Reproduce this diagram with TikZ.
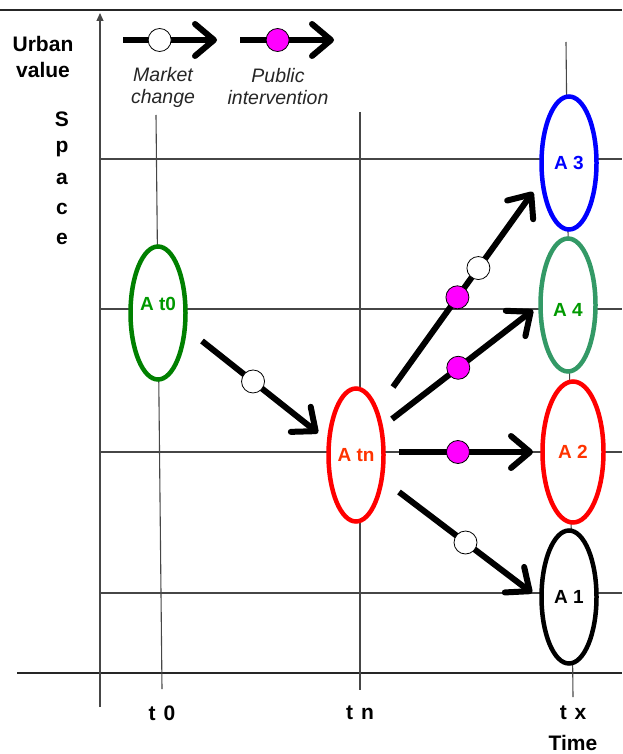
\documentclass[tikz,border=0pt]{standalone}
\usepackage{fontspec}
\setmainfont{Liberation Sans}
\usepackage{xcolor}
\usepackage{tikz}
\usetikzlibrary{calc,positioning,arrows.meta,shapes}

\definecolor{startgreen}{RGB}{0,128,0}
\definecolor{labelgreen}{RGB}{0,153,0}
\definecolor{seagreen}{RGB}{51,153,102}
\definecolor{labelred}{RGB}{255,51,0}
\definecolor{pubmagenta}{RGB}{255,0,255}
\definecolor{gridgray}{RGB}{70,70,70}

\tikzset{
  gridline/.style={line width=1.1pt, gridgray},
  axisline/.style={line width=2pt, black!85},
  flow/.style={line width=6pt, -{Straight Barb[round, length=19pt, width=32pt]}},
  mkt/.style={circle, draw, fill=white, line width=0.8pt, minimum size=23pt, inner sep=0pt},
  pub/.style={mkt, fill=pubmagenta},
  areafont/.style={font=\fontsize{19}{21}\selectfont\bfseries},
  area/.style={ellipse, draw, fill=white, line width=4.5pt, minimum width=55pt,
    minimum height=133pt, inner sep=0pt, areafont},
  axtxt/.style={font=\fontsize{21}{23}\selectfont\bfseries},
  legtxt/.style={font=\fontsize{19.5}{22}\selectfont\itshape, text=black!85, align=center}
}

\begin{document}
\begin{tikzpicture}[x=1pt, y=-1pt]
  \useasboundingbox (0,0) rectangle (622,754);

        \draw[axisline](0, 10) to (622, 10);
        \draw[axisline](17, 673) to (622, 673);
        \draw[gridline, -{Triangle[length=8pt, width=7pt]}](100, 707) to (100, 13);

          \draw[gridline](100, 159) to (622, 159);
          \draw[gridline](100, 309) to (622, 309);
          \draw[gridline](100, 452) to (622, 452);
          \draw[gridline](100, 593) to (622, 593);

          \draw[gridline](156, 115) to (162, 689);
          \draw[gridline](360, 112) to (360, 690);
          \draw[gridline](566, 42) to (573, 697);

        \node[axtxt] (urban) at (43, 44){Urban};
        \node[axtxt] (value) at (43, 70){value};
        \node[axtxt] (sS) at (62, 119){S};
        \node[axtxt] (sP) at (62, 149){p};
        \node[axtxt] (sA) at (62, 179){a};
        \node[axtxt] (sC) at (62, 209){c};
        \node[axtxt] (sE) at (62, 239){e};

        \node[axtxt] (tzero) at (162, 713){t\hspace{2pt} 0};
        \node[axtxt] (tn) at (360, 713){t\hspace{2pt} n};
        \node[axtxt] (tx) at (573, 713){t\hspace{2pt} x};
        \node[axtxt] (time) at (573, 743){Time};

        \coordinate (legA) at (123, 40);
        \coordinate (legB) at (217, 40);
        \coordinate (legC) at (240, 40);
        \coordinate (legD) at (334, 40);
          \draw[flow](legA) to node[mkt, pos=.39] (legmkt){} (legB);
          \draw[flow](legC) to node[pub, pos=.40] (legpub){} (legD);
        \node[legtxt] (market) at (163, 87){Market\\change};
        \node[legtxt] (public) at (278, 87){Public\\intervention};

        \node[area, draw=startgreen, label={[labelgreen, yshift=9pt, areafont]center:A t0}] (At0) at (158, 313){};
        \node[area, draw=red, text=labelred] (Atn) at (356, 455){A tn};
        \node[area, draw=blue, text=blue] (A3) at (569, 163){A 3};
        \node[area, draw=seagreen, label={[labelgreen, yshift=-5pt, areafont]center:A 4}] (A4) at (568, 305){};
        \node[area, draw=red, text=labelred, minimum width=61pt, minimum height=141pt] (A2) at (573, 452){A 2};
        \node[area, draw=black, text=black] (A1) at (569, 597){A 1};

          \draw[flow]([shift={(44, 28)}]At0.center) to node[mkt, pos=.44] (c1){} ([shift={(-38, -22)}]Atn.center);
          \draw[flow]([shift={(37, -68)}]Atn.center) to node[pub, pos=.46] (c2){} node[mkt, pos=.61] (c3){} ([shift={(-36, 29)}]A3.center);
          \draw[flow]([shift={(36, -36)}]Atn.center) to node[pub, pos=.47] (c4){} ([shift={(-35, 5)}]A4.center);
          \draw[flow]([shift={(43, -3)}]Atn.center) to node[pub, pos=.44] (c5){} ([shift={(-40, 0)}]A2.center);
          \draw[flow]([shift={(43, 37)}]Atn.center) to node[mkt, pos=.50] (c6){} ([shift={(-37, -4)}]A1.center);

\end{tikzpicture}
\end{document}
